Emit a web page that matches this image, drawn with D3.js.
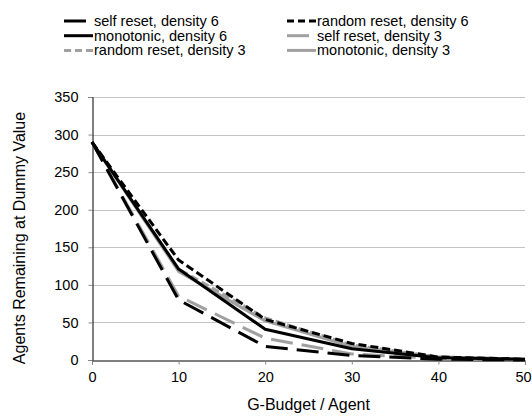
<!DOCTYPE html>
<html>
<head>
<meta charset="utf-8">
<script src="https://cdn.jsdelivr.net/npm/d3@7"></script>
<style>
  body { margin: 0; background: #fff; }
  svg { display: block; font-family: "Liberation Sans", Arial, sans-serif; }
</style>
</head>
<body>
<div id="chart"></div>
<script>
// G-Budget / Agent on x, agents remaining on y
const budgets = [0, 10, 20, 30, 40, 50];
const selfReset6 = [290, 80, 18, 6, 1, 0];
const randomReset6 = [290, 133, 54, 22, 4, 1];
const monotonic6 = [290, 121, 41, 15, 3, 1];
const selfReset3 = [290, 85, 29, 8, 2, 0];
const randomReset3 = [290, 121, 56, 20, 4, 1];
const monotonic3 = [290, 118, 52, 18, 4, 1];
const yTicks = [0, 50, 100, 150, 200, 250, 300, 350];
const xTicks = [0, 10, 20, 30, 40, 50];

const BLACK = '#000', GRAY = '#a0a0a0';
const LONG = '22,9', SHORT = '8,4';

// legend order matches the reference (row by row, two columns)
const series = [
  { name: 'self reset, density 6', values: selfReset6, color: BLACK, dash: LONG },
  { name: 'random reset, density 6', values: randomReset6, color: BLACK, dash: SHORT },
  { name: 'monotonic, density 6', values: monotonic6, color: BLACK, dash: null },
  { name: 'self reset, density 3', values: selfReset3, color: GRAY, dash: LONG },
  { name: 'random reset, density 3', values: randomReset3, color: GRAY, dash: SHORT },
  { name: 'monotonic, density 3', values: monotonic3, color: GRAY, dash: null },
];
// draw order: gray first, black on top
const drawOrder = [3, 4, 5, 0, 2, 1];

const W = 532, H = 416;
const margin = { top: 97, right: 7, bottom: 56, left: 92 };
const width = W - margin.left - margin.right;
const height = H - margin.top - margin.bottom;

const svg = d3.select('#chart').append('svg')
  .attr('width', W)
  .attr('height', H);

const g = svg.append('g')
  .attr('transform', 'translate(' + margin.left + ',' + margin.top + ')');

const x = d3.scaleLinear().domain([0, 50]).range([0, width]);
const y = d3.scaleLinear().domain([0, 350]).range([height, 0]);

// gridlines
g.append('g')
  .selectAll('line')
  .data(yTicks.filter(d => d > 0))
  .enter().append('line')
  .attr('x1', 0)
  .attr('x2', width)
  .attr('y1', d => Math.round(y(d)) + 0.5)
  .attr('y2', d => Math.round(y(d)) + 0.5)
  .attr('stroke', '#c4c4c4')
  .attr('stroke-width', 1);

// y axis
const yAxis = g.append('g')
  .attr('transform', 'translate(0.5,0)')
  .call(d3.axisLeft(y).tickValues(yTicks).tickSize(4).tickPadding(10));
yAxis.select('.domain').attr('stroke', '#000');
yAxis.selectAll('.tick line').attr('stroke', '#888');
yAxis.selectAll('text').style('font-size', '14.5px').attr('fill', '#000');

// x axis
const xAxis = g.append('g')
  .attr('transform', 'translate(0,' + (height + 0.5) + ')')
  .call(d3.axisBottom(x).tickValues(xTicks).tickSize(4).tickPadding(7));
xAxis.select('.domain').attr('stroke', '#000');
xAxis.selectAll('.tick line').attr('stroke', '#888');
xAxis.selectAll('text').style('font-size', '14.5px').attr('fill', '#000');
// last label sits against the right edge
xAxis.selectAll('text').filter(d => d === 50).attr('dx', '-2px');

// lines
const line = d3.line()
  .x((d, i) => x(budgets[i]))
  .y(d => y(d));

g.append('g')
  .selectAll('path')
  .data(drawOrder.map(i => series[i]))
  .enter().append('path')
  .attr('d', d => line(d.values))
  .attr('fill', 'none')
  .attr('stroke', d => d.color)
  .attr('stroke-width', 3)
  .attr('stroke-dasharray', d => d.dash)
  .attr('stroke-linejoin', 'round');

// axis titles
svg.append('text')
  .attr('x', margin.left + width / 2)
  .attr('y', 410)
  .attr('text-anchor', 'middle')
  .style('font-size', '16px')
  .text('G-Budget / Agent');

svg.append('text')
  .attr('transform', 'translate(25,' + 238 + ') rotate(-90)')
  .attr('text-anchor', 'middle')
  .style('font-size', '16px')
  .text('Agents Remaining at Dummy Value');

// legend
const legend = svg.append('g');
const item = legend.selectAll('g')
  .data(series)
  .enter().append('g')
  .attr('transform', (d, i) => 'translate(' + (i % 2 === 0 ? 64 : 287) + ',' + (21 + Math.floor(i / 2) * 14.7) + ')');

item.append('line')
  .attr('x1', 0).attr('x2', 29)
  .attr('y1', 0).attr('y2', 0)
  .attr('stroke', d => d.color)
  .attr('stroke-width', 3)
  .attr('stroke-dasharray', d => d.dash === LONG ? '22,20' : (d.dash === SHORT ? '7,4' : null));

item.append('text')
  .attr('x', 30)
  .attr('y', 0)
  .attr('dy', '0.35em')
  .style('font-size', '14.5px')
  .text(d => d.name);
</script>
</body>
</html>
